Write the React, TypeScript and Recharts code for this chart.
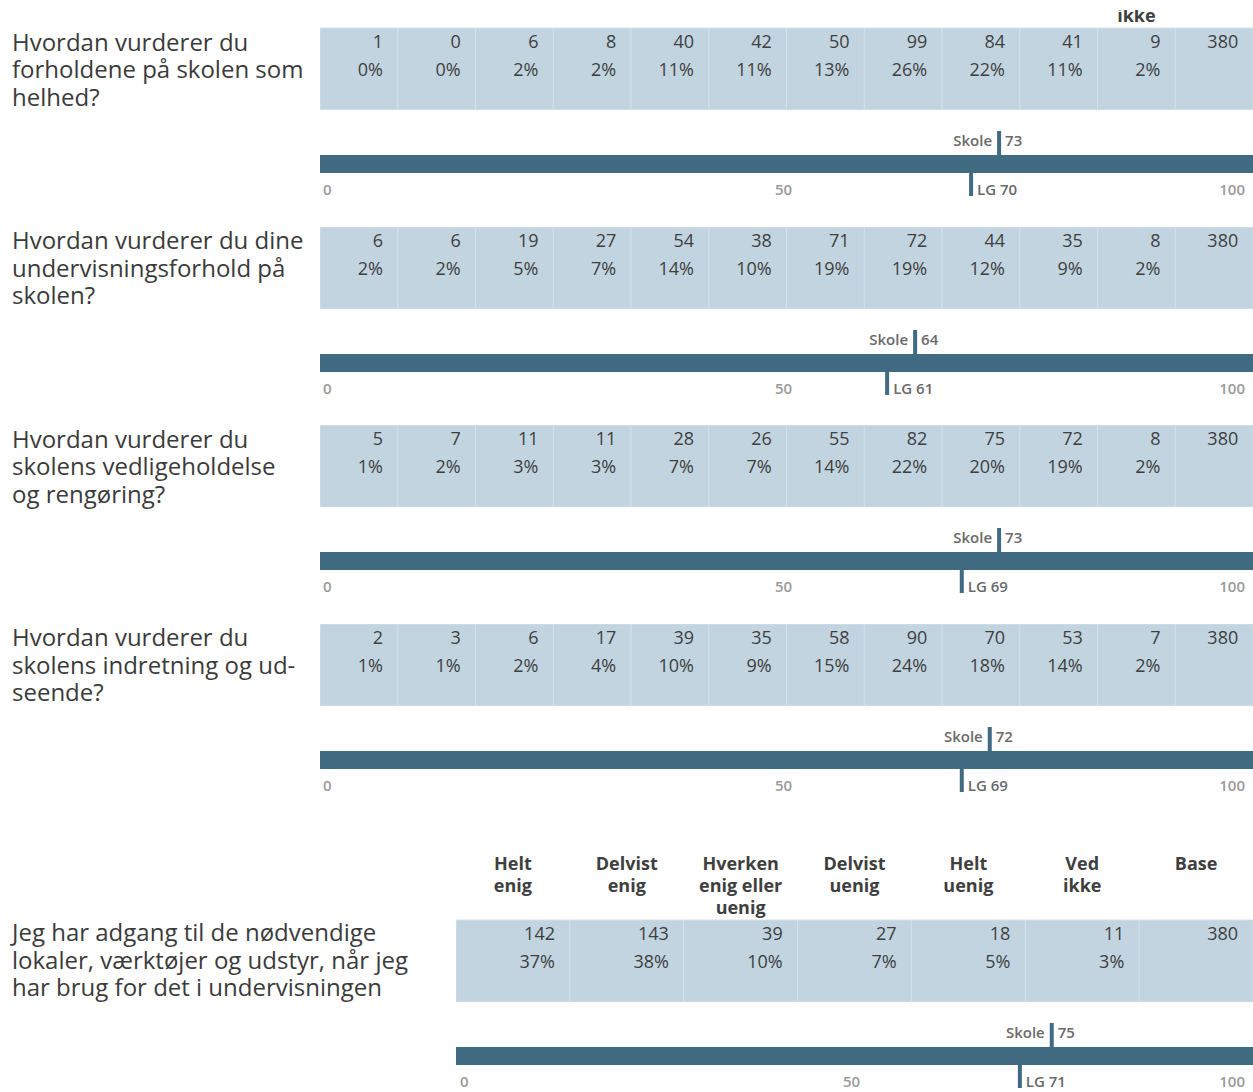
import React from 'react';
import { BarChart, Bar, XAxis, YAxis, LabelList, ReferenceLine } from 'recharts';

// ---------- data ----------
const scaleColumns = ['1', '2', '3', '4', '5', '6', '7', '8', '9', '10', 'Ved ikke', 'Base'];
// only the lowest line of the first header row is visible in the picture
const scaleHeaders: string[][] = [[], [], [], [], [], [], [], [], [], [], ['ikke'], []];

const questions: string[][] = [
  ['Hvordan vurderer du', 'forholdene på skolen som', 'helhed?'],
  ['Hvordan vurderer du dine', 'undervisningsforhold på', 'skolen?'],
  ['Hvordan vurderer du', 'skolens vedligeholdelse', 'og rengøring?'],
  ['Hvordan vurderer du', 'skolens indretning og ud-', 'seende?'],
];

const q1Counts = [1, 0, 6, 8, 40, 42, 50, 99, 84, 41, 9, 380];
const q1Pcts = ['0%', '0%', '2%', '2%', '11%', '11%', '13%', '26%', '22%', '11%', '2%', ''];
const q2Counts = [6, 6, 19, 27, 54, 38, 71, 72, 44, 35, 8, 380];
const q2Pcts = ['2%', '2%', '5%', '7%', '14%', '10%', '19%', '19%', '12%', '9%', '2%', ''];
const q3Counts = [5, 7, 11, 11, 28, 26, 55, 82, 75, 72, 8, 380];
const q3Pcts = ['1%', '2%', '3%', '3%', '7%', '7%', '14%', '22%', '20%', '19%', '2%', ''];
const q4Counts = [2, 3, 6, 17, 39, 35, 58, 90, 70, 53, 7, 380];
const q4Pcts = ['1%', '1%', '2%', '4%', '10%', '9%', '15%', '24%', '18%', '14%', '2%', ''];

const agreeColumns = ['Helt enig', 'Delvist enig', 'Hverken enig eller uenig', 'Delvist uenig', 'Helt uenig', 'Ved ikke', 'Base'];
const agreeHeaders: string[][] = [
  ['Helt', 'enig'],
  ['Delvist', 'enig'],
  ['Hverken', 'enig eller', 'uenig'],
  ['Delvist', 'uenig'],
  ['Helt', 'uenig'],
  ['Ved', 'ikke'],
  ['Base'],
];
const q5Question = ['Jeg har adgang til de nødvendige', 'lokaler, værktøjer og udstyr, når jeg', 'har brug for det i undervisningen'];
const q5Counts = [142, 143, 39, 27, 18, 11, 380];
const q5Pcts = ['37%', '38%', '10%', '7%', '5%', '3%', ''];

const skoleValues = [73, 64, 73, 72, 75];
const lgValues = [70, 61, 69, 69, 71];

const scaleDomain: [number, number] = [0, 100];
const scaleTicks = [0, 50, 100];

// ---------- styles ----------
const FONT = '"Open Sans", "Noto Sans", sans-serif';
const CELL_BG = '#c1d4df';
const CELL_LINE = '#d4e1e9';
const DARK = '#416b83';
const TEXT = '#3f3f3f';
const MARK_TEXT = '#6a6a6a';

const blockCounts = [q1Counts, q2Counts, q3Counts, q4Counts];
const blockPcts = [q1Pcts, q2Pcts, q3Pcts, q4Pcts];

// scale chart geometry (plot area = the dark bar)
const SCALE_H = 80;
const SCALE_TOP = 30;
const SCALE_BAR = 18;

// ---------- components ----------
function TableRow(props: {
  columns: string[];
  counts: number[];
  pcts: string[];
  headers?: string[][];
  headerHeight: number;
  firstBaseline: number;
  width: number;
}) {
  const { columns, counts, pcts, headers, headerHeight, firstBaseline, width } = props;
  const data = columns.map((c, i) => ({ col: c, count: counts[i], pct: pcts[i] }));
  const plotTop = headerHeight;

  const headerTick = (p: any) => {
    const idx = p.index ?? p.payload?.index ?? 0;
    const lines = (headers && headers[idx]) || [];
    return (
      <g>
        {lines.map((l, k) => (
          <text
            key={k}
            x={p.x}
            y={firstBaseline + k * 22}
            textAnchor="middle"
            fontFamily={FONT}
            fontWeight={700}
            fontSize={18}
            fill={TEXT}
          >
            {l}
          </text>
        ))}
      </g>
    );
  };

  const countLabel = (p: any) => {
    if (p.value === undefined || p.value === null) return null;
    const x = Number(p.x) + Number(p.width) - 15;
    return (
      <text x={x} y={plotTop + 20} textAnchor="end" fontFamily={FONT} fontSize={18} fill={TEXT}>
        {p.value}
      </text>
    );
  };
  const pctLabel = (p: any) => {
    if (!p.value) return null;
    const x = Number(p.x) + Number(p.width) - 15;
    return (
      <text x={x} y={plotTop + 48} textAnchor="end" fontFamily={FONT} fontSize={18} fill={TEXT}>
        {p.value}
      </text>
    );
  };

  return (
    <BarChart
      width={width}
      height={headerHeight + 82}
      data={data}
      margin={{ top: 0, right: 0, bottom: 0, left: 0 }}
      barCategoryGap={0}
      barGap={0}
    >
      <XAxis
        dataKey="col"
        orientation="top"
        hide={!headers}
        height={headerHeight}
        axisLine={false}
        tickLine={false}
        interval={0}
        tick={headerTick}
      />
      <YAxis hide domain={[0, 400]} />
      <Bar
        dataKey="count"
        fill="transparent"
        minPointSize={2}
        isAnimationActive={false}
        background={{ fill: CELL_BG, stroke: CELL_LINE, strokeWidth: 1 }}
      >
        <LabelList dataKey="count" content={countLabel} />
        <LabelList dataKey="pct" content={pctLabel} />
      </Bar>
    </BarChart>
  );
}

function ScaleRow(props: { width: number; skole: number; lg: number; zeroOffset: number }) {
  const { width, skole, lg, zeroOffset } = props;
  const data = [{ name: 'skala', max: scaleDomain[1] }];
  const barTop = SCALE_TOP;
  const barBottom = SCALE_TOP + SCALE_BAR;

  const tick = (p: any) => {
    const v = p.payload.value;
    const anchor = v === scaleDomain[0] ? 'start' : v === scaleDomain[1] ? 'end' : 'middle';
    const dx = v === scaleDomain[0] ? zeroOffset : v === scaleDomain[1] ? -8 : -3;
    return (
      <text x={p.x + dx} y={barBottom + 22} textAnchor={anchor} fontFamily={FONT} fontWeight={600} fontSize={15} fill="#9a9a9a">
        {v}
      </text>
    );
  };

  const skoleShape = (p: any) => {
    const x = Number(p.x1) - 2;
    return (
      <g>
        <rect x={x - 2} y={barTop - 24} width={4} height={25} fill={DARK} />
        <text x={x - 7} y={barTop - 9} textAnchor="end" fontFamily={FONT} fontWeight={600} fontSize={15} fill={MARK_TEXT}>
          Skole
        </text>
        <text x={x + 6} y={barTop - 9} textAnchor="start" fontFamily={FONT} fontWeight={600} fontSize={15} fill={MARK_TEXT}>
          {skole}
        </text>
      </g>
    );
  };
  const lgShape = (p: any) => {
    const x = Number(p.x1) - 2;
    return (
      <g>
        <rect x={x - 2} y={barBottom - 1} width={4} height={24} fill={DARK} />
        <text x={x + 6} y={barBottom + 22} textAnchor="start" fontFamily={FONT} fontWeight={600} fontSize={15} fill={MARK_TEXT}>
          {`LG ${lg}`}
        </text>
      </g>
    );
  };

  return (
    <BarChart
      layout="vertical"
      width={width}
      height={SCALE_H}
      data={data}
      margin={{ top: SCALE_TOP, right: 0, bottom: SCALE_H - SCALE_TOP - SCALE_BAR - 30, left: 0 }}
      barCategoryGap={0}
      style={{ overflow: 'visible' }}
    >
      <XAxis
        type="number"
        domain={scaleDomain}
        ticks={scaleTicks}
        axisLine={false}
        tickLine={false}
        height={30}
        tick={tick}
        interval={0}
      />
      <YAxis type="category" dataKey="name" hide />
      <Bar dataKey="max" fill={DARK} isAnimationActive={false} />
      <ReferenceLine x={skole} shape={skoleShape} ifOverflow="visible" />
      <ReferenceLine x={lg} shape={lgShape} ifOverflow="visible" />
    </BarChart>
  );
}

function Question(props: { lines: string[]; top: number }) {
  return (
    <div
      style={{
        position: 'absolute',
        left: 12,
        top: props.top,
        fontFamily: FONT,
        fontSize: 24,
        lineHeight: '27.5px',
        color: '#3b3b3b',
        whiteSpace: 'nowrap',
      }}
    >
      {props.lines.map((l, i) => (
        <div key={i}>{l}</div>
      ))}
    </div>
  );
}

export default function App() {
  const tableTops = [28, 226.5, 425, 623.5];
  const lastTop = 920;
  const leftX = 320;
  const width1 = 1253 - leftX;
  const leftX5 = 456;
  const width5 = 1253 - leftX5;

  return (
    <div
      style={{
        position: 'absolute',
        left: 0,
        top: 0,
        width: 1253,
        height: 1092,
        overflow: 'hidden',
        background: '#ffffff',
      }}
    >
      {questions.map((q, i) => {
        const t = tableTops[i];
        const headerHeight = i === 0 ? 18 : 0;
        return (
          <React.Fragment key={i}>
            <Question lines={q} top={t - 0.5} />
            <div style={{ position: 'absolute', left: leftX, top: t - headerHeight }}>
              <TableRow
                columns={scaleColumns}
                counts={blockCounts[i]}
                pcts={blockPcts[i]}
                headers={i === 0 ? scaleHeaders : undefined}
                headerHeight={headerHeight}
                firstBaseline={12}
                width={width1}
              />
            </div>
            <div style={{ position: 'absolute', left: leftX, top: t + 97 }}>
              <ScaleRow width={width1} skole={skoleValues[i]} lg={lgValues[i]} zeroOffset={3} />
            </div>
          </React.Fragment>
        );
      })}

      <Question lines={q5Question} top={lastTop - 2} />
      <div style={{ position: 'absolute', left: leftX5, top: lastTop - 70 }}>
        <TableRow
          columns={agreeColumns}
          counts={q5Counts}
          pcts={q5Pcts}
          headers={agreeHeaders}
          headerHeight={70}
          firstBaseline={20}
          width={width5}
        />
      </div>
      <div style={{ position: 'absolute', left: leftX5, top: lastTop + 97 }}>
        <ScaleRow width={width5} skole={skoleValues[4]} lg={lgValues[4]} zeroOffset={4} />
      </div>
    </div>
  );
}
